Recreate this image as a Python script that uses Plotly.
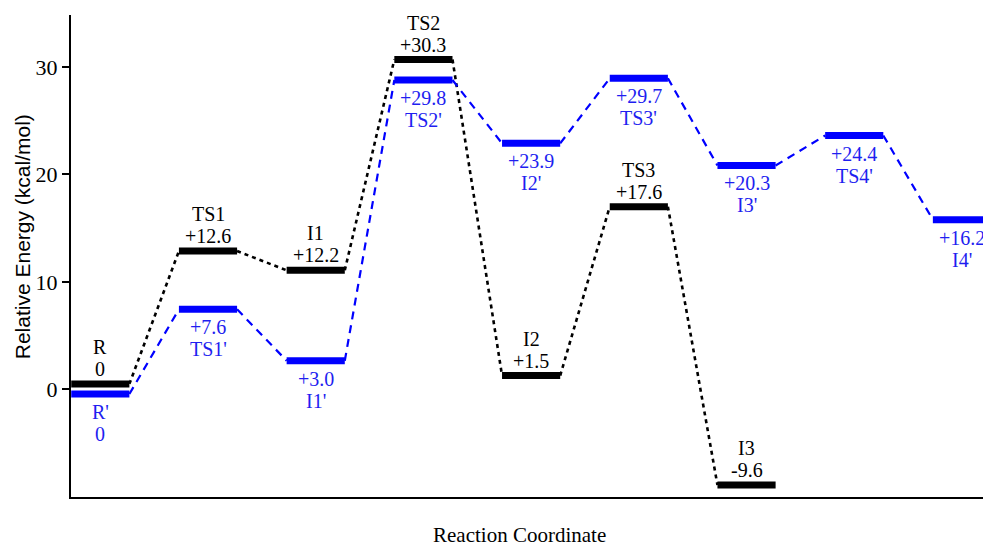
import plotly.graph_objects as go

# ---- data ----
black_names = ["R", "TS1", "I1", "TS2", "I2", "TS3", "I3"]
black_pos = [0, 1, 2, 3, 4, 5, 6]
black_level = [0.5, 12.86, 11.07, 30.68, 1.28, 16.99, -8.9]
black_values = ["0", "+12.6", "+12.2", "+30.3", "+1.5", "+17.6", "-9.6"]

blue_names = ["R'", "TS1'", "I1'", "TS2'", "I2'", "TS3'", "I3'", "TS4'", "I4'"]
blue_pos = [0, 1, 2, 3, 4, 5, 6, 7, 8]
blue_level = [-0.44, 7.44, 2.66, 28.77, 22.88, 28.93, 20.82, 23.61, 15.78]
blue_values = ["0", "+7.6", "+3.0", "+29.8", "+23.9", "+29.7", "+20.3", "+24.4", "+16.2"]

y_ticks = [0, 10, 20, 30]

HALF = 0.27
BLACK = "#000000"
BLUE = "#0000ff"
BLUE_TXT = "#1e1ef0"
SERIF = "Liberation Serif, Times New Roman, serif"
LBL = 20


def levels_xy(pos, lev):
    xs, ys = [], []
    for p, v in zip(pos, lev):
        xs += [p - HALF, p + HALF, None]
        ys += [v, v, None]
    return xs, ys


def links_xy(pos, lev):
    xs, ys = [], []
    for i in range(len(pos) - 1):
        xs += [pos[i] + HALF, pos[i + 1] - HALF, None]
        ys += [lev[i], lev[i + 1], None]
    return xs, ys


fig = go.Figure()

bx, by = links_xy(black_pos, black_level)
fig.add_trace(go.Scatter(x=bx, y=by, mode="lines",
                         line=dict(color=BLACK, width=2.6, dash="4px,4px"),
                         hoverinfo="skip", showlegend=False))
ux, uy = links_xy(blue_pos, blue_level)
fig.add_trace(go.Scatter(x=ux, y=uy, mode="lines",
                         line=dict(color=BLUE, width=2.2, dash="8px,6px"),
                         hoverinfo="skip", showlegend=False))

bx, by = levels_xy(black_pos, black_level)
fig.add_trace(go.Scatter(x=bx, y=by, mode="lines",
                         line=dict(color=BLACK, width=7),
                         hoverinfo="skip", showlegend=False))
ux, uy = levels_xy(blue_pos, blue_level)
fig.add_trace(go.Scatter(x=ux, y=uy, mode="lines",
                         line=dict(color=BLUE, width=7),
                         hoverinfo="skip", showlegend=False))

ann = []
for p, v, n, t in zip(black_pos, black_level, black_names, black_values):
    ann.append(dict(x=p, y=v, xref="x", yref="y", text=t, showarrow=False,
                    yshift=15, yanchor="middle",
                    font=dict(family=SERIF, size=LBL, color=BLACK)))
    ann.append(dict(x=p, y=v, xref="x", yref="y", text=n, showarrow=False,
                    yshift=37, yanchor="middle",
                    font=dict(family=SERIF, size=LBL, color=BLACK)))

for i, (p, v, n, t) in enumerate(zip(blue_pos, blue_level, blue_names, blue_values)):
    first, second = (n, t) if i == 0 else (t, n)
    ann.append(dict(x=p, y=v, xref="x", yref="y", text=first, showarrow=False,
                    yshift=-18, yanchor="middle",
                    font=dict(family=SERIF, size=LBL, color=BLUE_TXT)))
    ann.append(dict(x=p, y=v, xref="x", yref="y", text=second, showarrow=False,
                    yshift=-40, yanchor="middle",
                    font=dict(family=SERIF, size=LBL, color=BLUE_TXT)))

ann.append(dict(x=0.4886, y=-0.078, xref="paper", yref="paper",
                text="Reaction Coordinate", showarrow=False,
                xanchor="center", yanchor="middle",
                font=dict(family=SERIF, size=21, color=BLACK)))
ann.append(dict(x=-0.0534, y=0.539, xref="paper", yref="paper",
                text="Relative Energy (kcal/mol)", showarrow=False,
                textangle=-90, xanchor="center", yanchor="middle",
                font=dict(family="Liberation Sans, Arial, sans-serif", size=21, color=BLACK)))

# the page body adds an 8px margin, so the figure is sized/placed to compensate
fig.update_layout(
    width=983, height=540,
    margin=dict(l=63, r=3, t=7, b=51),
    paper_bgcolor="white", plot_bgcolor="white",
    annotations=ann,
    xaxis=dict(range=[-0.272, 8.242], showgrid=False, zeroline=False,
               showticklabels=False, ticks="", showline=True,
               linecolor=BLACK, linewidth=2),
    yaxis=dict(range=[-10.02, 34.82], showgrid=False, zeroline=False,
               tickvals=y_ticks, ticktext=[str(v) for v in y_ticks],
               ticks="outside", ticklen=7, tickwidth=2, tickcolor=BLACK,
               showline=True, linecolor=BLACK, linewidth=2,
               tickfont=dict(family=SERIF, size=22, color=BLACK)),
)

fig.write_html("out.html")
